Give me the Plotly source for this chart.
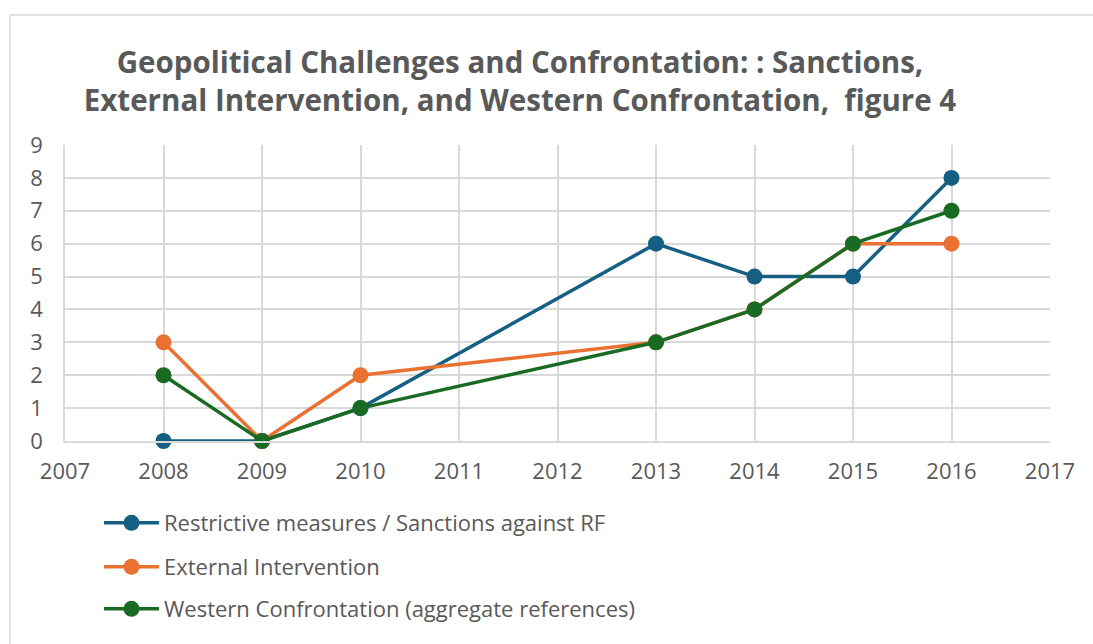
import plotly.graph_objects as go

years_sanctions = [2008, 2009, 2010, 2013, 2014, 2015, 2016]
sanctions = [0, 0, 1, 6, 5, 5, 8]
years_intervention = [2008, 2009, 2010, 2013, 2014, 2015, 2016]
intervention = [3, 0, 2, 3, 4, 6, 6]
years_western = [2008, 2009, 2010, 2013, 2014, 2015, 2016]
western = [2, 0, 1, 3, 4, 6, 7]

names = ["Restrictive measures / Sanctions against RF",
         "External Intervention",
         "Western Confrontation (aggregate references)"]
colors = ["#156082", "#E97132", "#196B24"]

FONT = "Open Sans"
GRAY = "#595959"
GRID = "#D9D9D9"

fig = go.Figure()
series = [(years_sanctions, sanctions), (years_intervention, intervention), (years_western, western)]
legends = ["legend2", "legend3", "legend4"]
for (xs, ys), name, c, lg in zip(series, names, colors, legends):
    fig.add_trace(go.Scatter(x=xs, y=ys, name=name, mode="lines+markers",
                             line=dict(color=c, width=3.5),
                             marker=dict(color=c, size=16),
                             cliponaxis=False,
                             legend=lg))

L, R, T, B = 65, 43, 145, 203
W, H = 1093, 644
pw, ph = W - L - R, H - T - B

def px_x(x):
    return (x - L) / pw

def px_y(y):
    return (H - B - y) / ph

legend_common = dict(font=dict(family=FONT, size=22, color=GRAY), bgcolor="rgba(0,0,0,0)",
                     xanchor="left", yanchor="middle", itemwidth=55)
fig.update_layout(
    width=W, height=H,
    margin=dict(l=L, r=R, t=T, b=B),
    paper_bgcolor="white", plot_bgcolor="white",
    showlegend=True,
    title=dict(text="Geopolitical Challenges and Confrontation: : Sanctions,<br>External Intervention, and Western Confrontation,  figure 4",
               x=520 / W, xanchor="center", y=1 - 73 / H, yanchor="middle",
               font=dict(family=FONT, size=29.5, color=GRAY, weight="bold")),
    xaxis=dict(range=[2007, 2017], dtick=1, tick0=2007, showgrid=True, gridcolor=GRID, gridwidth=1.5,
               showline=True, linecolor=GRID, linewidth=1.5, zeroline=False,
               tickfont=dict(family=FONT, size=22, color=GRAY), ticks="", ticklabelstandoff=10),
    yaxis=dict(range=[0, 9], dtick=1, showgrid=True, gridcolor=GRID, gridwidth=1.5,
               showline=True, linecolor=GRID, linewidth=1.5, zeroline=False,
               tickfont=dict(family=FONT, size=22, color=GRAY), ticks="", ticklabelstandoff=16),
    legend2=dict(x=px_x(99), y=px_y(523), **legend_common),
    legend3=dict(x=px_x(99), y=px_y(567), **legend_common),
    legend4=dict(x=px_x(99), y=px_y(609), **legend_common),
    shapes=[dict(type="rect", xref="paper", yref="paper",
                 x0=px_x(10), x1=px_x(1100), y0=px_y(660), y1=px_y(15),
                 line=dict(color=GRID, width=1.5), fillcolor="rgba(0,0,0,0)", layer="below")],
)

fig.write_html("out.html")
